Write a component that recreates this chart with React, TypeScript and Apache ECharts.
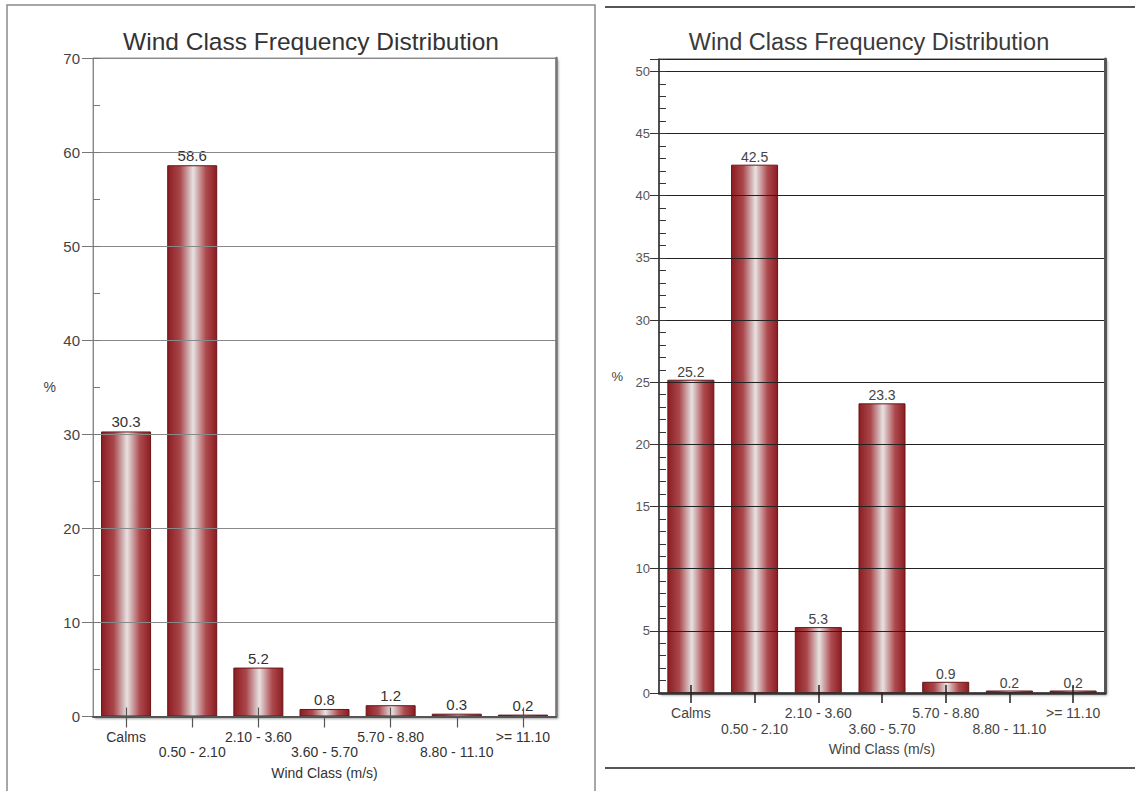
import React, { useEffect, useRef } from "react";
import * as echarts from "echarts";

const categories = [
  "Calms",
  "0.50 - 2.10",
  "2.10 - 3.60",
  "3.60 - 5.70",
  "5.70 - 8.80",
  "8.80 - 11.10",
  ">= 11.10",
];
const leftValues = [30.3, 58.6, 5.2, 0.8, 1.2, 0.3, 0.2];
const rightValues = [25.2, 42.5, 5.3, 23.3, 0.9, 0.2, 0.2];
const chartTitle = "Wind Class Frequency Distribution";
const xName = "Wind Class (m/s)";
const yName = "%";

const FONT = "'Liberation Sans', Arial, sans-serif";

const barGradient = new echarts.graphic.LinearGradient(0, 0, 1, 0, [
  { offset: 0, color: "#8c1d22" },
  { offset: 0.25, color: "#a9474b" },
  { offset: 0.52, color: "#e6e2e2" },
  { offset: 0.78, color: "#ad4a4e" },
  { offset: 1, color: "#8c1d22" },
]);

export default function App() {
  const ref = useRef<HTMLDivElement>(null);

  useEffect(() => {
    document.body.style.margin = "0";
    if (!ref.current) return;
    const chart = echarts.init(ref.current, undefined, { renderer: "svg" });

    const altFormatter = (v: string, i: number) => (i % 2 ? "\n" + v : v);

    const option: any = {
      animation: false,
      backgroundColor: "#fff",
      textStyle: { fontFamily: FONT },
      title: [
        {
          text: chartTitle,
          left: 306,
          top: 24,
          textAlign: "center",
          textStyle: { fontSize: 24.5, fontWeight: "normal", color: "#333", fontFamily: FONT },
        },
        {
          text: chartTitle,
          left: 864,
          top: 25,
          textAlign: "center",
          textStyle: { fontSize: 23.5, fontWeight: "normal", color: "#3a3a3a", fontFamily: FONT },
        },
      ],
      graphic: [
        {
          type: "rect",
          shape: { x: 7, y: 5, width: 588, height: 800 },
          style: { fill: "none", stroke: "#8a8a8a", lineWidth: 1.5 },
          silent: true,
        },
        {
          type: "line",
          shape: { x1: 605, y1: 7, x2: 1135, y2: 7 },
          style: { stroke: "#555", lineWidth: 2 },
          silent: true,
        },
        {
          type: "line",
          shape: { x1: 605, y1: 768, x2: 1135, y2: 768 },
          style: { stroke: "#555", lineWidth: 2 },
          silent: true,
        },
      ],
      grid: [
        {
          left: 93,
          right: 1135 - 556,
          top: 58,
          bottom: 791 - 716.5,
          show: true,
          backgroundColor: "#fff",
          borderColor: "#9a9a9a",
          borderWidth: 1,
          shadowColor: "rgba(0,0,0,0.35)",
          shadowBlur: 2,
          shadowOffsetX: 2,
          shadowOffsetY: 2,
        },
        {
          left: 659,
          right: 1135 - 1105,
          top: 59,
          bottom: 791 - 693,
          show: true,
          backgroundColor: "#fff",
          borderColor: "#555",
          borderWidth: 1,
          shadowColor: "rgba(0,0,0,0.35)",
          shadowBlur: 2,
          shadowOffsetX: 2,
          shadowOffsetY: 2,
        },
      ],
      xAxis: [
        {
          gridIndex: 0,
          type: "category",
          position: "bottom",
          data: categories,
          z: 10,
          axisLine: { lineStyle: { color: "#555", width: 2 } },
          axisTick: { show: true, alignWithLabel: true, length: 11, lineStyle: { color: "#555", width: 1.2 } },
          axisLabel: {
            interval: 0,
            margin: 13,
            fontSize: 14,
            lineHeight: 15,
            color: "#333",
            fontFamily: FONT,
            formatter: altFormatter,
          },
          name: xName,
          nameLocation: "middle",
          nameGap: 49,
          nameTextStyle: { fontSize: 14, color: "#333", fontFamily: FONT },
        },
        {
          gridIndex: 0,
          type: "category",
          position: "bottom",
          data: categories,
          z: 10,
          axisLine: { show: false },
          axisTick: { show: true, alignWithLabel: true, inside: true, length: 9, lineStyle: { color: "#555", width: 1.2 } },
          axisLabel: { show: false },
        },
        {
          gridIndex: 1,
          type: "category",
          position: "bottom",
          data: categories,
          z: 10,
          axisLine: { lineStyle: { color: "#333", width: 2.5 } },
          axisTick: { show: true, alignWithLabel: true, length: 10, lineStyle: { color: "#222", width: 1.5 } },
          axisLabel: {
            interval: 0,
            margin: 12,
            fontSize: 14,
            lineHeight: 16,
            color: "#444",
            fontFamily: FONT,
            formatter: altFormatter,
          },
          name: xName,
          nameLocation: "middle",
          nameGap: 46,
          nameTextStyle: { fontSize: 14, color: "#444", fontFamily: FONT },
        },
        {
          gridIndex: 1,
          type: "category",
          position: "bottom",
          data: categories,
          z: 10,
          axisLine: { show: false },
          axisTick: { show: true, alignWithLabel: true, inside: true, length: 8, lineStyle: { color: "#222", width: 1.5 } },
          axisLabel: { show: false },
        },
      ],
      yAxis: [
        {
          gridIndex: 0,
          type: "value",
          position: "left",
          min: 0,
          max: 70,
          interval: 10,
          z: 4,
          axisLine: { show: true, lineStyle: { color: "#888", width: 1 } },
          axisTick: { show: true, length: 11, lineStyle: { color: "#777" } },
          axisLabel: { fontSize: 15, color: "#444", margin: 13, fontFamily: FONT },
          splitLine: { lineStyle: { color: "#888", width: 1 } },
          name: yName,
          nameLocation: "middle",
          nameRotate: 0,
          nameGap: 37,
          nameTextStyle: { fontSize: 14, color: "#444", fontFamily: FONT },
        },
        {
          gridIndex: 0,
          type: "value",
          position: "left",
          min: 0,
          max: 70,
          interval: 5,
          z: 4,
          axisLine: { show: false },
          axisTick: { show: true, inside: true, length: 7, lineStyle: { color: "#777" } },
          axisLabel: { show: false },
          splitLine: { show: false },
        },
        {
          gridIndex: 0,
          type: "value",
          position: "right",
          min: 0,
          max: 70,
          interval: 10,
          z: 4,
          axisLine: { show: true, lineStyle: { color: "#777", width: 2.5 } },
          axisTick: { show: false },
          axisLabel: { show: false },
          splitLine: { show: false },
        },
        {
          gridIndex: 1,
          type: "value",
          position: "left",
          min: 0,
          max: 51,
          interval: 5,
          z: 4,
          axisLine: { show: true, lineStyle: { color: "#333", width: 1.5 } },
          axisTick: { show: true, length: 9, lineStyle: { color: "#333" } },
          axisLabel: {
            fontSize: 13,
            color: "#555",
            margin: 9,
            fontFamily: FONT,
            formatter: (v: number) => (v % 5 === 0 ? String(v) : ""),
          },
          splitLine: { lineStyle: { color: "#222", width: 1.2 } },
          name: yName,
          nameLocation: "middle",
          nameRotate: 0,
          nameGap: 36,
          nameTextStyle: { fontSize: 13, color: "#444", fontFamily: FONT },
        },
        {
          gridIndex: 1,
          type: "value",
          position: "left",
          min: 0,
          max: 51,
          interval: 1,
          z: 4,
          axisLine: { show: false },
          axisTick: { show: true, inside: true, length: 7, lineStyle: { color: "#333" } },
          axisLabel: { show: false },
          splitLine: { show: false },
        },
        {
          gridIndex: 1,
          type: "value",
          position: "right",
          min: 0,
          max: 51,
          interval: 5,
          z: 4,
          axisLine: { show: true, lineStyle: { color: "#555", width: 3 } },
          axisTick: { show: false },
          axisLabel: { show: false },
          splitLine: { show: false },
        },
      ],
      series: [
        {
          type: "bar",
          xAxisIndex: 0,
          yAxisIndex: 0,
          data: leftValues,
          barWidth: 50,
          z: 2,
          itemStyle: { color: barGradient, borderColor: "#6a1518", borderWidth: 1 },
          label: {
            show: true,
            position: "top",
            distance: 2,
            fontSize: 15,
            color: "#333",
            fontFamily: FONT,
          },
        },
        {
          type: "bar",
          xAxisIndex: 2,
          yAxisIndex: 3,
          data: rightValues,
          barWidth: 47,
          z: 2,
          itemStyle: { color: barGradient, borderColor: "#6a1518", borderWidth: 1 },
          label: {
            show: true,
            position: "top",
            distance: 1,
            fontSize: 14,
            color: "#444",
            fontFamily: FONT,
          },
        },
      ],
    };

    chart.setOption(option);
    return () => chart.dispose();
  }, []);

  return <div ref={ref} style={{ width: 1135, height: 791 }} />;
}
